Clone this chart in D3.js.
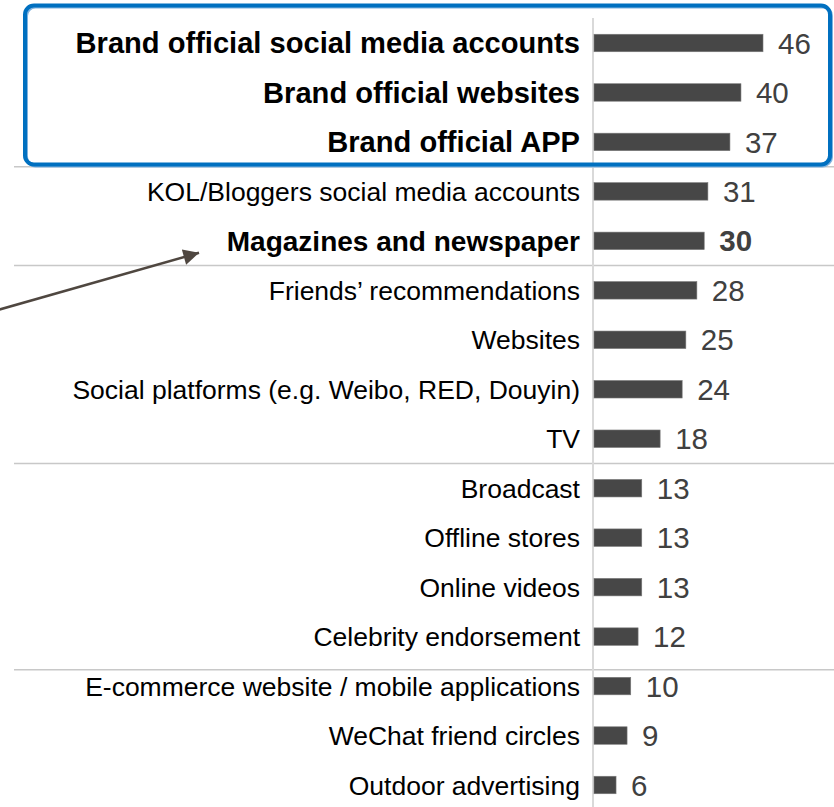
<!DOCTYPE html>
<html>
<head>
<meta charset="utf-8">
<script src="https://cdn.jsdelivr.net/npm/d3@7"></script>
<style>
  html, body { margin: 0; padding: 0; background: #ffffff; }
  svg { display: block; font-family: "Liberation Sans", Arial, Helvetica, sans-serif; }
</style>
</head>
<body>
<svg id="chart" width="834" height="807"></svg>
<script>
// Information channels and the share of respondents using each (%)
const categories = [
  "Brand official social media accounts",
  "Brand official websites",
  "Brand official APP",
  "KOL/Bloggers social media accounts",
  "Magazines and newspaper",
  "Friends\u2019 recommendations",
  "Websites",
  "Social platforms (e.g. Weibo, RED, Douyin)",
  "TV",
  "Broadcast",
  "Offline stores",
  "Online videos",
  "Celebrity endorsement",
  "E-commerce website / mobile applications",
  "WeChat friend circles",
  "Outdoor advertising"
];
const values = [46, 40, 37, 31, 30, 28, 25, 24, 18, 13, 13, 13, 12, 10, 9, 6];
// Brand-owned channels, framed and written larger
const brandOwned = [
  "Brand official social media accounts",
  "Brand official websites",
  "Brand official APP"
];
// Channels written in bold
const highlighted = brandOwned.concat(["Magazines and newspaper"]);
// Group dividers, in row units (between rows)
const groupBreaks = [2.5, 4.5, 8.5, 12.67];

const svg = d3.select("#chart");
const W = 834, H = 807;

const axisX = 594;
const x = d3.scaleLinear().domain([0, 50]).range([axisX, axisX + 183.7]);
const y = d3.scalePoint().domain(categories).range([43, 785]);
const rowY = d3.scaleLinear().domain([0, categories.length - 1]).range([43, 785]);
const barH = 17.5;

// group divider lines
svg.append("g").selectAll("line")
  .data(groupBreaks)
  .join("line")
  .attr("x1", 14).attr("x2", W)
  .attr("y1", d => rowY(d)).attr("y2", d => rowY(d))
  .attr("stroke", "#c8c8c8")
  .attr("stroke-width", 1.5);

// vertical baseline
svg.append("line")
  .attr("x1", axisX - 1).attr("x2", axisX - 1)
  .attr("y1", 18).attr("y2", H)
  .attr("stroke", "#d9d9d9")
  .attr("stroke-width", 2);

// bars
svg.append("g").selectAll("rect")
  .data(categories)
  .join("rect")
  .attr("x", x(0))
  .attr("y", d => y(d) - barH / 2)
  .attr("width", (d, i) => x(values[i]) - x(0))
  .attr("height", barH)
  .attr("fill", "#474747")
  .attr("stroke", "#7a7a7a")
  .attr("stroke-width", 0.6);

// category labels
svg.append("g").selectAll("text")
  .data(categories)
  .join("text")
  .attr("x", 580)
  .attr("y", d => y(d))
  .attr("dy", "0.36em")
  .attr("text-anchor", "end")
  .attr("fill", "#000000")
  .attr("font-weight", d => highlighted.includes(d) ? "bold" : "normal")
  .attr("font-size", d => brandOwned.includes(d) ? 29.1 : highlighted.includes(d) ? 28 : 26.5)
  .text(d => d);

// value labels
svg.append("g").selectAll("text")
  .data(categories)
  .join("text")
  .attr("x", (d, i) => x(values[i]) + 15)
  .attr("y", d => y(d))
  .attr("dy", "0.36em")
  .attr("fill", "#404040")
  .attr("font-size", 29.5)
  .attr("font-weight", d => d === "Magazines and newspaper" ? "bold" : "normal")
  .text((d, i) => values[i]);

// highlight frame around the brand-owned channels
const frameTop = y(brandOwned[0]) - 37.5;
const frameBottom = y(brandOwned[2]) + 22.5;
svg.append("rect")
  .attr("x", 26.5).attr("y", frameTop + 1.5)
  .attr("width", 805).attr("height", frameBottom - frameTop)
  .attr("rx", 9)
  .attr("fill", "none")
  .attr("stroke", "#7fb2df")
  .attr("stroke-width", 3);
svg.append("rect")
  .attr("x", 25).attr("y", frameTop)
  .attr("width", 805).attr("height", frameBottom - frameTop)
  .attr("rx", 9)
  .attr("fill", "none")
  .attr("stroke", "#0070c0")
  .attr("stroke-width", 4);

// pointer arrow toward the print media row
const defs = svg.append("defs");
defs.append("marker")
  .attr("id", "head")
  .attr("viewBox", "0 0 10 10")
  .attr("refX", 10).attr("refY", 5)
  .attr("markerWidth", 6.5).attr("markerHeight", 6)
  .attr("markerUnits", "strokeWidth")
  .attr("orient", "auto")
  .append("path")
  .attr("d", "M0,0 L10,5 L0,10 Z")
  .attr("fill", "#4f4740");
const mag = y("Magazines and newspaper");
svg.append("line")
  .attr("x1", -2).attr("y1", mag + 69)
  .attr("x2", 199).attr("y2", mag + 12)
  .attr("stroke", "#4f4740")
  .attr("stroke-width", 2.6)
  .attr("marker-end", "url(#head)");
</script>
</body>
</html>
